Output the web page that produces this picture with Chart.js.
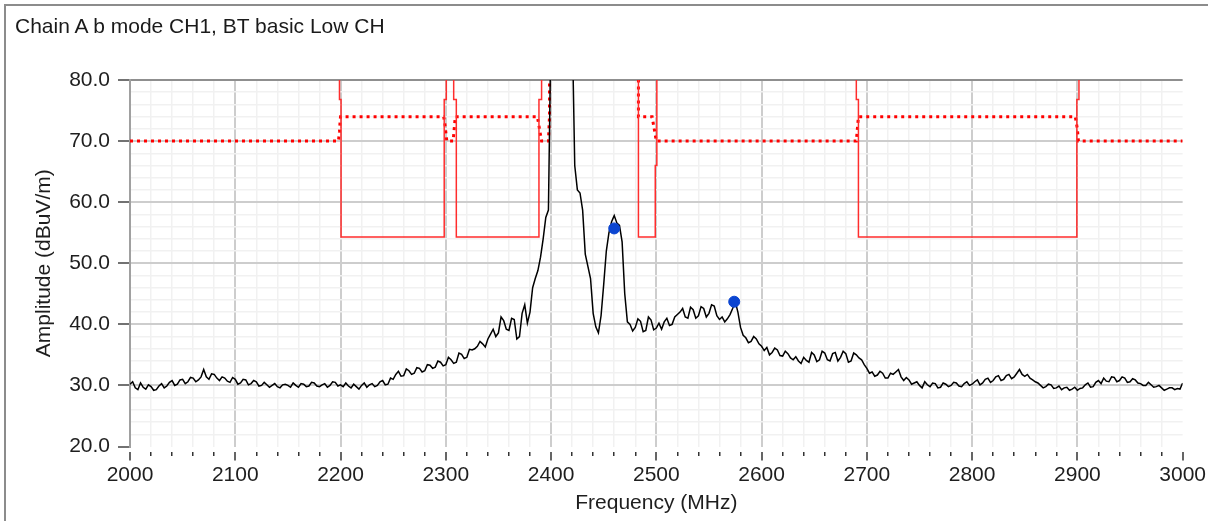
<!DOCTYPE html>
<html>
<head>
<meta charset="utf-8">
<script src="https://cdn.jsdelivr.net/npm/chart.js@4.4.1/dist/chart.umd.min.js"></script>
<style>
  html, body { margin: 0; padding: 0; background: #fff; overflow: hidden; }
  #wrap { position: relative; width: 1208px; height: 521px; }
  #c { position: absolute; left: 0; top: 0; }
  #frame { position: absolute; left: 4px; top: 4px; width: 1300px; height: 600px; border: 2px solid #8c8c8c; pointer-events: none; }
  #title { position: absolute; left: 15px; top: 15px; font: 21px "Liberation Sans", Arial, sans-serif; line-height: 21px; color: #1a1a1a; white-space: nowrap; }
</style>
</head>
<body>
<div id="wrap">
  <canvas id="c" width="1208" height="521"></canvas>
  <div id="frame"></div>
  <div id="title">Chain A b mode CH1, BT basic Low CH</div>
</div>
<script>
// measured trace, 2000..3000 MHz every 2.5 MHz (90 = off the top of the plot)
const traceStartMHz = 2000;
const traceStepMHz = 2.5;
const traceDb = [
  30.2, 30.6, 29.6, 29.3, 30.4, 29.7, 29.4, 30.1, 29.8, 29.2, 29.3, 29.9, 30.3, 29.6, 29.9, 30.5, 30.8, 30.0, 30.2, 30.9,
  31.0, 30.3, 30.6, 31.3, 31.2, 30.6, 30.9, 31.4, 32.6, 31.4, 31.0, 31.9, 31.8, 31.2, 30.8, 31.4, 31.2, 30.7, 30.5, 31.3,
  31.0, 30.2, 30.4, 31.0, 30.9, 30.1, 30.3, 30.8, 30.6, 29.9, 30.0, 30.5, 30.1, 29.7, 30.0, 30.3, 29.8, 29.6, 30.1, 30.2,
  30.0, 29.7, 30.4, 30.0, 29.7, 30.3, 30.2, 29.8, 29.9, 30.5, 30.4, 29.9, 29.8, 30.1, 30.3, 29.7, 30.0, 30.6, 30.5, 29.9,
  30.1, 29.8, 30.4, 29.9, 29.6, 30.2, 29.8, 29.4, 30.0, 30.4, 29.7, 30.1, 30.3, 29.8, 30.0, 30.6, 30.8, 30.1, 30.2, 31.2,
  31.0, 31.8, 32.3, 31.5, 31.6, 32.7, 32.4, 31.8, 32.0, 32.9, 32.8, 32.2, 32.4, 33.4, 33.3, 32.8, 33.0, 34.0, 33.8, 33.2,
  33.4, 34.6, 34.2, 33.6, 33.8, 35.3, 35.1, 34.4, 34.6, 35.9, 35.8, 36.0, 36.4, 37.2, 36.8, 36.3, 37.6, 38.4, 39.2, 38.0,
  38.6, 41.2, 40.6, 39.2, 39.0, 41.0, 40.8, 37.6, 38.0, 41.8, 43.2, 40.2, 42.0, 46.0, 47.5, 48.8, 51.0, 54.0, 57.5, 58.7,
  90, 90, 90, 90, 90, 90, 90, 90, 90, 66.0, 62.0, 61.5, 58.7, 51.5, 49.5, 47.5, 41.8, 39.6, 38.6, 41.4,
  46.5, 52.0, 55.0, 56.8, 57.8, 56.6, 56.2, 53.5, 45.0, 40.4, 40.0, 38.9, 39.5, 40.9, 40.5, 38.8, 39.0, 41.2, 40.7, 39.1,
  39.4, 40.2, 39.2, 40.4, 41.0, 39.8, 40.0, 41.2, 41.6, 42.0, 42.6, 41.2, 41.0, 42.8, 42.4, 41.0, 41.4, 42.9, 42.6, 41.2,
  41.8, 43.2, 43.0, 41.4, 40.8, 41.2, 40.4, 40.9, 41.6, 42.6, 43.7, 42.0, 39.5, 38.2, 37.8, 37.0, 37.2, 38.0, 37.6, 36.8,
  36.4, 35.7, 36.2, 35.0, 35.4, 36.1, 35.8, 34.9, 34.8, 35.6, 35.2, 34.5, 34.2, 34.7, 34.0, 33.6, 34.6, 34.1, 33.8, 35.4,
  35.0, 33.9, 34.2, 35.6, 35.3, 34.2, 34.0, 35.2, 35.4, 34.0, 34.6, 35.6, 35.2, 33.8, 34.0, 35.3, 35.0, 34.5, 34.2, 33.4,
  32.8, 32.0, 32.2, 31.5, 31.7, 32.3, 32.0, 31.2, 31.2, 32.0, 31.8, 32.2, 32.6, 31.4, 30.8, 31.3, 30.9, 30.2, 30.4, 30.6,
  30.0, 29.6, 30.6, 30.1, 29.8, 30.4, 30.3, 29.6, 29.7, 30.4, 30.2, 29.8, 30.0, 30.5, 30.4, 29.9, 29.8, 30.3, 30.6, 30.0,
  30.2, 30.6, 30.9, 30.1, 30.4, 31.0, 31.2, 30.5, 30.8, 31.4, 31.6, 30.8, 31.0, 31.6, 31.8, 31.1, 31.4, 32.0, 32.6, 31.8,
  31.5, 31.8, 31.2, 30.9, 30.6, 30.4, 30.0, 29.6, 29.8, 30.2, 30.1, 29.5, 29.6, 29.9, 29.3, 29.6, 29.7, 29.2, 29.4, 29.7,
  29.2, 29.5, 29.6, 30.1, 30.4, 29.7, 29.8, 30.5, 30.8, 30.3, 31.2, 30.7, 30.6, 31.4, 31.3, 30.6, 30.8, 31.4, 31.2, 30.5,
  30.6, 31.1, 30.9, 30.4, 30.3, 30.0, 30.0, 30.5, 30.1, 29.7, 29.8, 30.0, 29.6, 29.2, 29.4, 29.6, 29.6, 29.3, 29.5, 29.4,
  30.4
];

// solid red limit
const avgLimitMHz = [2000, 2199, 2199, 2200.5, 2200.5, 2298.5, 2298.5, 2300.5, 2300.5, 2307.5, 2307.5, 2310, 2310, 2388.5, 2388.5, 2391,
  2391, 2483, 2483, 2499, 2499, 2500.5, 2500.5, 2690, 2690, 2692, 2692, 2899.5, 2899.5, 2901.5, 2901.5, 3000];
const avgLimitDb = [90, 90, 76.8, 76.8, 54.3, 54.3, 76.8, 76.8, 90, 90, 76.8, 76.8, 54.3, 54.3, 76.8, 76.8,
  90, 90, 54.3, 54.3, 66, 66, 90, 90, 76.8, 76.8, 54.3, 54.3, 76.8, 76.8, 90, 90];

// dotted red limit
const pkLimitMHz = [2000, 2198, 2199, 2199.5, 2200, 2298, 2299, 2300, 2301, 2307, 2308, 2309, 2387, 2389, 2391, 2397.5, 2398.5, 2398.5,
  2483, 2483, 2496, 2498, 2500, 2690, 2691, 2692, 2898, 2900, 2901, 3000];
const pkLimitDb = [70, 70, 71.5, 73, 74, 74, 73, 71.5, 70, 70, 72, 74, 74, 72, 70, 70, 74, 90,
  90, 74, 74, 72, 70, 70, 72, 74, 74, 72, 70, 70];

// blue markers
const markerMHz = [2460, 2574];
const markerDb = [55.7, 43.7];

const xLabels = [2000, 2100, 2200, 2300, 2400, 2500, 2600, 2700, 2800, 2900, 3000];
const yLabels = [20, 30, 40, 50, 60, 70, 80];

const txt = '#1e1e1e';
const font = { family: '"Liberation Sans", Arial, sans-serif', size: 21 };

const pts = (xs, ys) => xs.map((x, i) => ({ x: x, y: ys[i] }));
const trace = traceDb.map((v, i) => ({ x: traceStartMHz + i * traceStepMHz, y: v }));

new Chart(document.getElementById('c').getContext('2d'), {
  type: 'line',
  data: {
    datasets: [
      {
        data: pts(markerMHz, markerDb),
        showLine: false,
        pointRadius: 5.5,
        pointBackgroundColor: '#0b45d1',
        pointBorderColor: '#0b45d1',
        order: 0
      },
      {
        data: trace,
        borderColor: '#000',
        borderWidth: 1.5,
        pointRadius: 0,
        order: 1
      },
      {
        data: pts(avgLimitMHz, avgLimitDb),
        borderColor: 'rgb(255,45,45)',
        borderWidth: 1.5,
        pointRadius: 0,
        order: 2
      },
      {
        data: pts(pkLimitMHz, pkLimitDb),
        borderColor: 'rgb(255,0,0)',
        borderWidth: 3,
        borderDash: [3, 4],
        pointRadius: 0,
        order: 3
      }
    ]
  },
  options: {
    responsive: false,
    animation: false,
    devicePixelRatio: 1,
    layout: { padding: { left: 0, right: 24, top: 80, bottom: 0 } },
    plugins: { legend: { display: false }, tooltip: { enabled: false } },
    scales: {
      x: {
        type: 'linear',
        min: 2000,
        max: 3000,
        afterFit: s => { s.height = 74.5; },
        border: { display: false },
        grid: {
          color: c => {
            const v = c.tick.value;
            if (v === 2000 || v === 3000) return 'rgba(0,0,0,0)';
            return v % 100 === 0 ? '#cdcdcd' : '#f1f1f1';
          },
          lineWidth: c => (c.tick.value % 100 === 0 ? 2 : 1.5),
          tickLength: 14,
          tickColor: '#333',
          tickWidth: 1.5,
          tickBorderDash: c => (c.tick.value % 100 === 0 ? [0, 5, 9, 50] : [0, 5, 4, 50])
        },
        ticks: {
          stepSize: 20,
          autoSkip: false,
          maxRotation: 0,
          padding: 2,
          color: txt,
          font: font,
          callback: v => (xLabels.includes(v) ? String(v) : '')
        },
        title: { display: true, text: 'Frequency (MHz)', color: txt, font: font, padding: { top: 0, bottom: 5 } }
      },
      y: {
        min: 20,
        max: 80,
        afterFit: s => { s.width = 130; },
        border: { display: true, color: '#a0a0a0', width: 2 },
        grid: {
          color: c => {
            const v = c.tick.value;
            if (v === 20) return 'rgba(0,0,0,0)';
            if (v === 80) return '#8f8f8f';
            return v % 10 === 0 ? '#cdcdcd' : '#f1f1f1';
          },
          lineWidth: c => (c.tick.value % 10 === 0 ? 2 : 1.5),
          tickLength: 15,
          tickColor: '#444',
          tickWidth: 1.5,
          tickBorderDash: c => (c.tick.value % 10 === 0 ? [0, 3, 11, 50] : [0, 50])
        },
        ticks: {
          stepSize: 2,
          autoSkip: false,
          padding: 5,
          color: txt,
          font: font,
          callback: v => (yLabels.includes(v) ? v.toFixed(1) : '')
        },
        title: { display: true, text: 'Amplitude (dBuV/m)', color: txt, font: font, padding: { top: 32, bottom: 0 } }
      }
    }
  }
});
</script>
</body>
</html>
